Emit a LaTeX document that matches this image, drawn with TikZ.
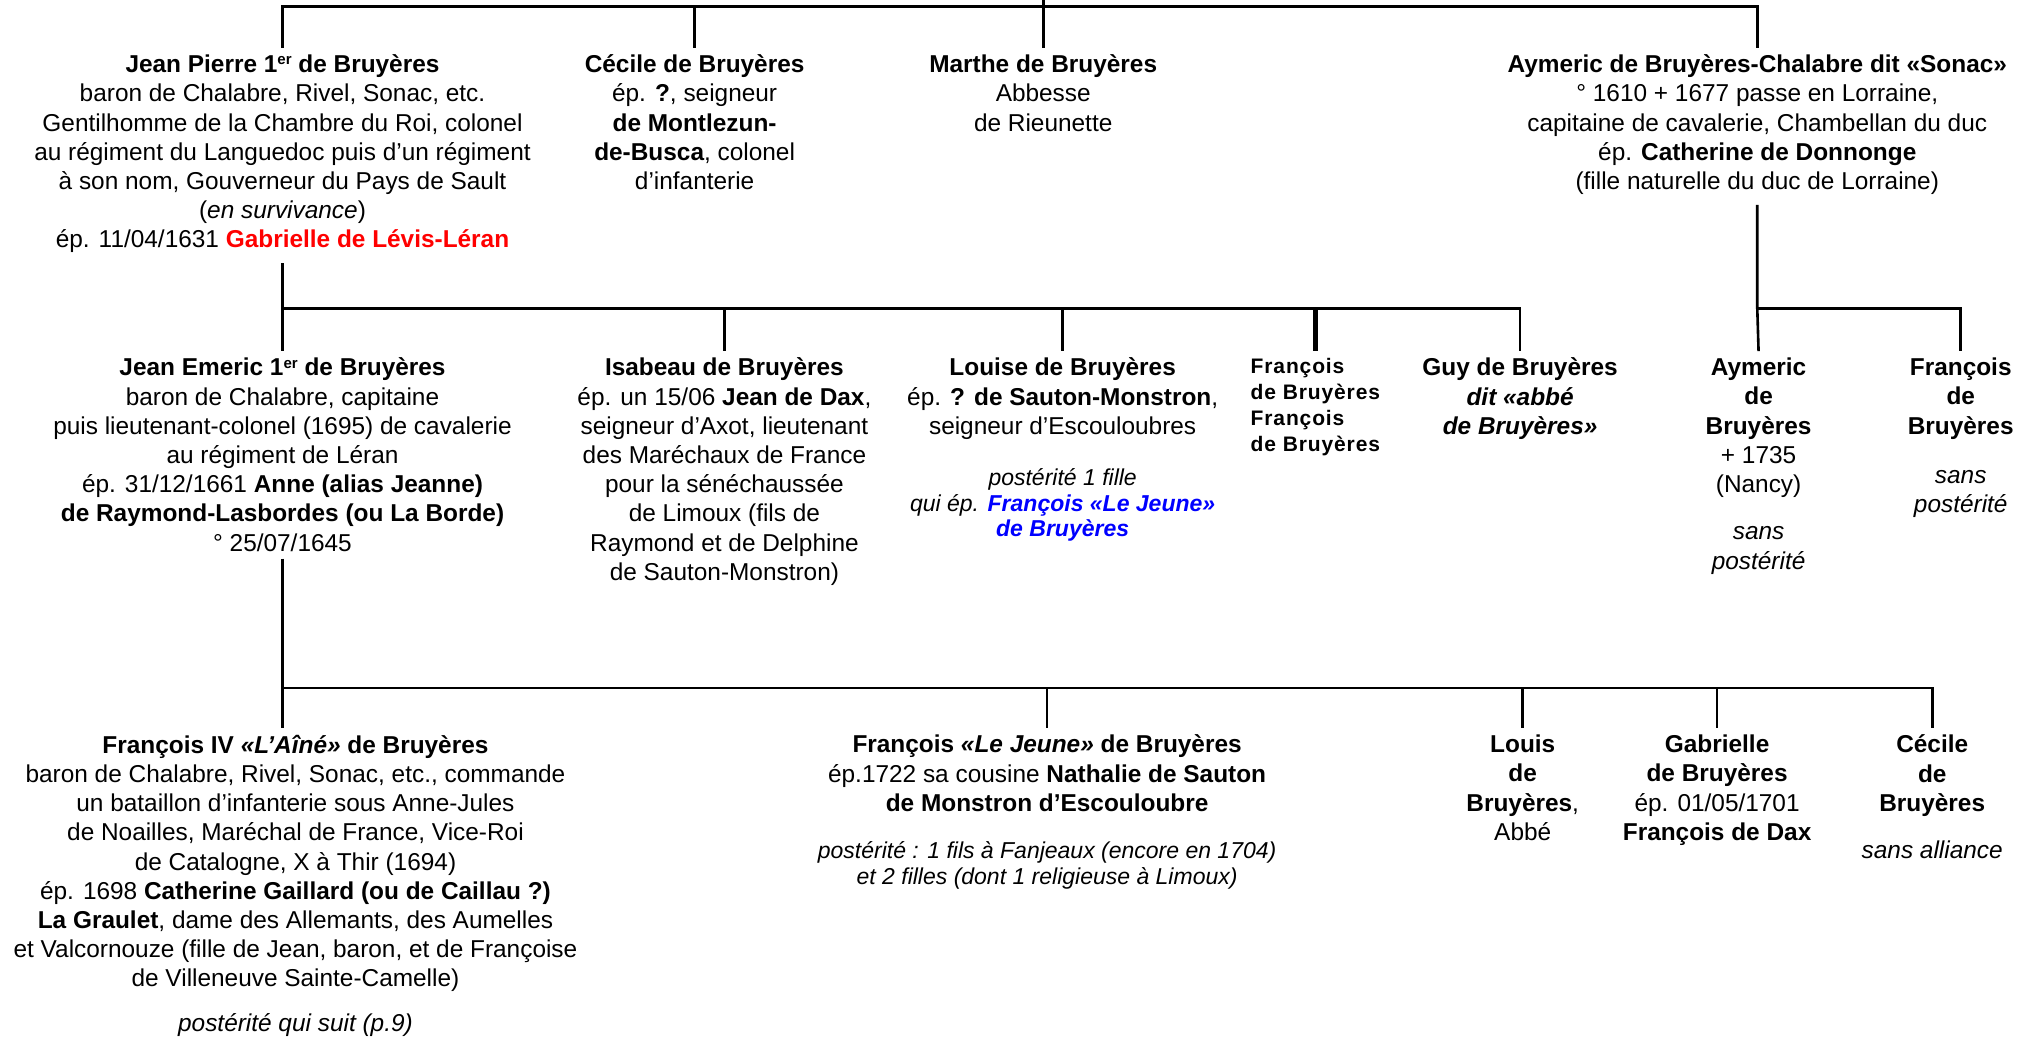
\documentclass[tikz,border=0pt]{standalone}
\usepackage{fontspec}
\setmainfont{Liberation Sans}
\newfontfamily\spacedfont[LetterSpace=4.2]{Liberation Sans}
\newcommand\ersup{\raisebox{0.6ex}{\fontsize{7.5}{8}\selectfont er}}
\usetikzlibrary{positioning}

\begin{document}
\begin{tikzpicture}[
x=0.648pt, y=-0.648pt,
person/.style={anchor=north, align=center, inner xsep=0pt, inner ysep=3.2pt,
  font=\fontsize{12.2}{14.6}\selectfont,
  execute at end node=\strut},
note/.style={person, font=\fontsize{12.2}{14.6}\selectfont\itshape},
smallnote/.style={person, font=\fontsize{11.5}{12.8}\selectfont\itshape},
link/.style={line width=1.3pt},
thicklink/.style={line width=2.6pt}
]
\useasboundingbox (0,0) rectangle (1568,801);

\node[person] (jp) at (218,37) {\textbf{Jean Pierre 1\ersup\ de Bruyères}\\
  baron de Chalabre, Rivel, Sonac, etc.\\
  Gentilhomme de la Chambre du Roi, colonel\\
  au régiment du Languedoc puis d’un régiment\\
  à son nom, Gouverneur du Pays de Sault\\
  (\textit{en survivance})\\
  ép. 11/04/1631 \textcolor{red}{\textbf{Gabrielle de Lévis-Léran}}};
\node[person] (ce) at (536,37) {\textbf{Cécile de Bruyères}\\
  ép. \textbf{?}, seigneur\\
  \textbf{de Montlezun-}\\
  \textbf{de-Busca}, colonel\\
  d’infanterie};
\node[person] (ma) at (805,37) {\textbf{Marthe de Bruyères}\\
  Abbesse\\
  de Rieunette};
\node[person] (ay) at (1356,37) {\textbf{Aymeric de Bruyères-Chalabre dit «Sonac»}\\
  ° 1610 + 1677 passe en Lorraine,\\
  capitaine de cavalerie, Chambellan du duc\\
  ép. \textbf{Catherine de Donnonge}\\
  (fille naturelle du duc de Lorraine)};

\node[person] (je) at (218,271) {\textbf{Jean Emeric 1\ersup\ de Bruyères}\\
  baron de Chalabre, capitaine\\
  puis lieutenant-colonel (1695) de cavalerie\\
  au régiment de Léran\\
  ép. 31/12/1661 \textbf{Anne (alias Jeanne)}\\
  \textbf{de Raymond-Lasbordes (ou La Borde)}\\
  ° 25/07/1645};
\node[person] (is) at (559,271) {\textbf{Isabeau de Bruyères}\\
  ép. un 15/06 \textbf{Jean de Dax},\\
  seigneur d’Axot, lieutenant\\
  des Maréchaux de France\\
  pour la sénéchaussée\\
  de Limoux (fils de\\
  Raymond et de Delphine\\
  de Sauton-Monstron)};
\node[person] (lo) at (820,271) {\textbf{Louise de Bruyères}\\
  ép. \textbf{? de Sauton-Monstron},\\
  seigneur d’Escouloubres};
\node[smallnote, below=6pt of lo] (lonote) {postérité 1 fille\\
  qui ép. \textcolor{blue}{\textbf{François «Le Jeune»}}\\
  \textcolor{blue}{\textbf{de Bruyères}}};
\node[person, align=left, font=\spacedfont\fontsize{10.5}{13}\selectfont\bfseries] (fr) at (1015,271) {François\\
  de Bruyères\\
  François\\
  de Bruyères};
\node[person] (guy) at (1173,271) {\textbf{Guy de Bruyères}\\
  \textbf{\textit{dit «abbé}}\\
  \textbf{\textit{de Bruyères»}}};
\node[person] (ayc) at (1357,271) {\textbf{Aymeric}\\
  \textbf{de}\\
  \textbf{Bruyères}\\
  + 1735\\
  (Nancy)};
\node[note, below=6pt of ayc] (aycnote) {sans\\
  postérité};
\node[person] (frs) at (1513,271) {\textbf{François}\\
  \textbf{de}\\
  \textbf{Bruyères}};
\node[note, below=7pt of frs] (frsnote) {sans\\
  postérité};

\node[person] (fiv) at (228,562) {\textbf{François IV \textit{«L’Aîné»} de Bruyères}\\
  baron de Chalabre, Rivel, Sonac, etc., commande\\
  un bataillon d’infanterie sous Anne-Jules\\
  de Noailles, Maréchal de France, Vice-Roi\\
  de Catalogne, X à Thir (1694)\\
  ép. 1698 \textbf{Catherine Gaillard (ou de Caillau ?)}\\
  \textbf{La Graulet}, dame des Allemants, des Aumelles\\
  et Valcornouze (fille de Jean, baron, et de Françoise\\
  de Villeneuve Sainte-Camelle)};
\node[note, below=1pt of fiv] (fivnote) {postérité qui suit (p.9)};
\node[person] (flj) at (808,562) {\textbf{François \textit{«Le Jeune»} de Bruyères}\\
  ép.1722 sa cousine \textbf{Nathalie de Sauton}\\
  \textbf{de Monstron d’Escouloubre}};
\node[smallnote, below=4pt of flj] (fljnote) {postérité : 1 fils à Fanjeaux (encore en 1704)\\
  et 2 filles (dont 1 religieuse à Limoux)};
\node[person] (lou) at (1175,562) {\textbf{Louis}\\
  \textbf{de}\\
  \textbf{Bruyères},\\
  Abbé};
\node[person] (gab) at (1325,562) {\textbf{Gabrielle}\\
  \textbf{de Bruyères}\\
  ép. 01/05/1701\\
  \textbf{François de Dax}};
\node[person] (cec) at (1491,562) {\textbf{Cécile}\\
  \textbf{de}\\
  \textbf{Bruyères}};
\node[note, below=2pt of cec] (cecnote) {sans alliance};

\coordinate (root) at (805,0);
\coordinate (bus0) at (805,5);
\draw[link] (root) -- (bus0);
\foreach \n in {jp,ce,ma,ay}
  \draw[link] (bus0) -| (\n.north);

\coordinate (bus1) at (218,238);
\draw[link] (jp.south) -- (bus1) -- (je.north);
\foreach \n in {is,lo,guy}
  \draw[link] (bus1) -| (\n.north);
\draw[thicklink] (fr.north |- bus1) -- (fr.north);

\coordinate (bus2) at (1356,238);
\draw[link] (ay.south) -- (bus2) -- (ayc.north);
\draw[link] (bus2) -| (frs.north);

\coordinate (bus3) at (218,531);
\draw[link] ([yshift=4pt]je.south) -- (bus3) -- (bus3 |- fiv.north);
\foreach \n in {flj,lou,gab,cec}
  \draw[link] (bus3) -| (\n.north);
\end{tikzpicture}
\end{document}
